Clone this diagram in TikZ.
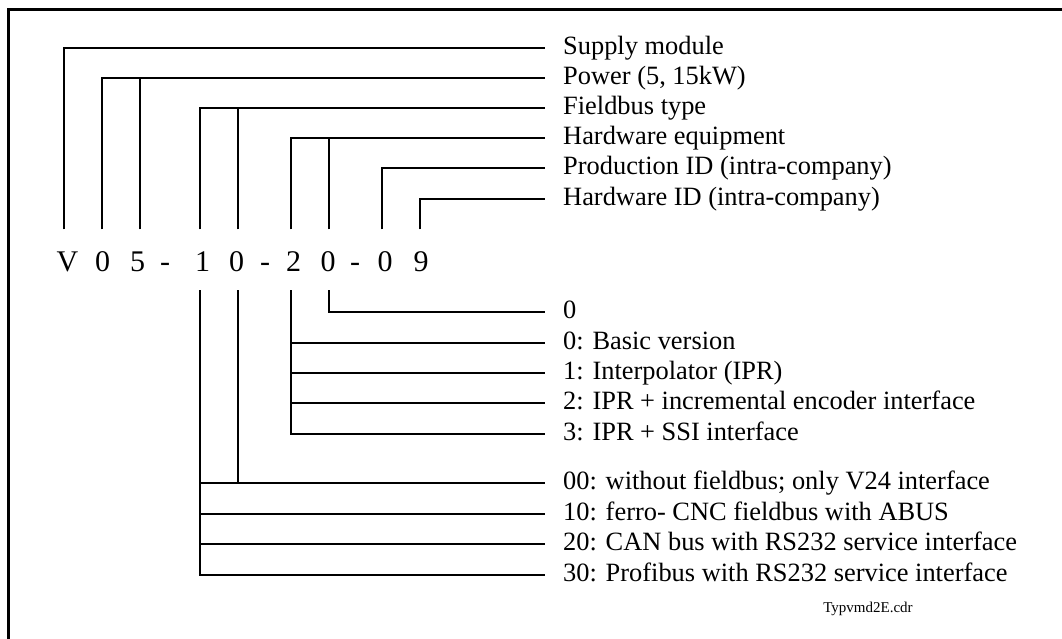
\documentclass[tikz,border=0pt]{standalone}
\usepackage{fontspec}
\setmainfont{Liberation Serif}
\begin{document}
\begin{tikzpicture}[x=1pt,y=-1pt,
  conn/.style={line width=2.1pt},
  frame/.style={line width=3pt},
  lbl/.style={anchor=base west,inner sep=0pt,font=\fontsize{26.4}{30}\selectfont},
  code/.style={anchor=base,inner sep=0pt,font=\fontsize{30}{34}\selectfont},
  fn/.style={anchor=base,inner sep=0pt,font=\fontsize{15}{17}\selectfont}]
\useasboundingbox (0,0) rectangle (1062,639);
\draw[frame] (8,640) -- (8,10) -- (1063,10);

% code characters
\node[code] (c1)  at (67.5,271.7) {V};
\node[code] (c2)  at (102.5,271.7) {0};
\node[code] (c3)  at (137.5,271.7) {5};
\node[code] (h1)  at (165,271.7) {-};
\node[code] (c4)  at (202.5,271.7) {1};
\node[code] (c5)  at (236.7,271.7) {0};
\node[code] (h2)  at (265,271.7) {-};
\node[code] (c6)  at (293.5,271.7) {2};
\node[code] (c7)  at (328,271.7) {0};
\node[code] (h3)  at (355,271.7) {-};
\node[code] (c8)  at (385,271.7) {0};
\node[code] (c9)  at (421,271.7) {9};

% top stubs
\coordinate (t1) at (64.3,229.3);
\coordinate (t2) at (101.7,229.3);
\coordinate (t3) at (139.7,229.3);
\coordinate (t4) at (200,229.3);
\coordinate (t5) at (237.7,229.3);
\coordinate (t6) at (291,229.3);
\coordinate (t7) at (329,229.3);
\coordinate (t8) at (381.7,229.3);
\coordinate (t9) at (420,229.3);
% bottom stubs
\coordinate (b4) at (200,290);
\coordinate (b5) at (237.7,290);
\coordinate (b6) at (291,290);
\coordinate (b7) at (329,290);

% top line ends and labels
\coordinate (e1) at (545,48.3);
\coordinate (e2) at (545,77.7);
\coordinate (e3) at (545,107.7);
\coordinate (e4) at (545,138.3);
\coordinate (e5) at (545,168.3);
\coordinate (e6) at (545,199.3);
\node[lbl] (l1) at ([xshift=18pt,yshift=-6.5pt]e1) {Supply module};
\node[lbl] (l2) at ([xshift=18pt,yshift=-6.5pt]e2) {Power (5, 15kW)};
\node[lbl] (l3) at ([xshift=18pt,yshift=-6.5pt]e3) {Fieldbus type};
\node[lbl] (l4) at ([xshift=18pt,yshift=-6.5pt]e4) {Hardware equipment};
\node[lbl] (l5) at ([xshift=18pt,yshift=-6.5pt]e5) {Production ID (intra-company)};
\node[lbl] (l6) at ([xshift=18pt,yshift=-6.5pt]e6) {Hardware ID (intra-company)};

% bottom line ends and labels
\coordinate (f1) at (545,311.7);
\coordinate (f2) at (545,342.7);
\coordinate (f3) at (545,372.7);
\coordinate (f4) at (545,403.3);
\coordinate (f5) at (545,434);
\coordinate (f6) at (545,483.3);
\coordinate (f7) at (545,514);
\coordinate (f8) at (545,544.3);
\coordinate (f9) at (545,575);
\node[lbl] (m1) at ([xshift=18pt,yshift=-6.5pt]f1) {0};
\node[lbl] (m2) at ([xshift=18pt,yshift=-6.5pt]f2) {0: Basic version};
\node[lbl] (m3) at ([xshift=18pt,yshift=-6.5pt]f3) {1: Interpolator (IPR)};
\node[lbl] (m4) at ([xshift=18pt,yshift=-6.5pt]f4) {2: IPR + incremental encoder interface};
\node[lbl] (m5) at ([xshift=18pt,yshift=-6.5pt]f5) {3: IPR + SSI interface};
\node[lbl] (m6) at ([xshift=18pt,yshift=-6.5pt]f6) {00: without fieldbus; only V24 interface};
\node[lbl] (m7) at ([xshift=18pt,yshift=-6.5pt]f7) {10: ferro- CNC fieldbus with ABUS};
\node[lbl] (m8) at ([xshift=18pt,yshift=-6.5pt]f8) {20: CAN bus with RS232 service interface};
\node[lbl] (m9) at ([xshift=18pt,yshift=-6.5pt]f9) {30: Profibus with RS232 service interface};

\node[fn] (file) at (868,612) {Typvmd2E.cdr};

% top connectors
\draw[conn] (t1) |- (e1);
\draw[conn] (t2) |- (e2);
\draw[conn] (t3) -- (t3 |- e2);
\draw[conn] (t4) |- (e3);
\draw[conn] (t5) -- (t5 |- e3);
\draw[conn] (t6) |- (e4);
\draw[conn] (t7) -- (t7 |- e4);
\draw[conn] (t8) |- (e5);
\draw[conn] (t9) |- (e6);

% bottom connectors
\draw[conn] (b7) |- (f1);
\draw[conn] (b6) |- (f5);
\draw[conn] (b6 |- f2) -- (f2);
\draw[conn] (b6 |- f3) -- (f3);
\draw[conn] (b6 |- f4) -- (f4);
\draw[conn] (b5) -- (b5 |- f6);
\draw[conn] (b4) |- (f9);
\draw[conn] (b4 |- f6) -- (f6);
\draw[conn] (b4 |- f7) -- (f7);
\draw[conn] (b4 |- f8) -- (f8);
\end{tikzpicture}
\end{document}
